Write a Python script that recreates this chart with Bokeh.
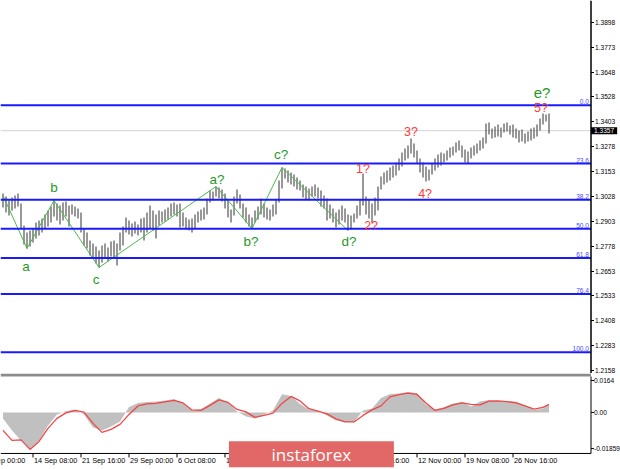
from bokeh.plotting import figure
from bokeh.layouts import column
from bokeh.models import ColumnDataSource, Label, BoxAnnotation, Range1d
from bokeh.embed import file_html
from bokeh.resources import INLINE
from bokeh.core.properties import value

# ---------------- data ----------------
highs = [1.3043, 1.3028, 1.3008, 1.3023, 1.3033, 1.3043, 1.2993, 1.2883, 1.2848, 1.2858,
         1.2868, 1.2898, 1.2908, 1.2918, 1.2938, 1.2958, 1.2978, 1.3008, 1.2993, 1.2983,
         1.2998, 1.3003, 1.2983, 1.2988, 1.2978, 1.2968, 1.2948, 1.2868, 1.2848, 1.2808,
         1.2793, 1.2778, 1.2758, 1.2783, 1.2793, 1.2773, 1.2803, 1.2808, 1.2793, 1.2848,
         1.2878, 1.2923, 1.2908, 1.2893, 1.2903, 1.2888, 1.2918, 1.2923, 1.2948, 1.2983,
         1.2958, 1.2938, 1.2958, 1.2953, 1.2963, 1.2973, 1.2993, 1.2998, 1.2988, 1.2993,
         1.2948, 1.2923, 1.2913, 1.2918, 1.2938, 1.2953, 1.2963, 1.2973, 1.3018, 1.3058,
         1.3053, 1.3078, 1.3073, 1.3063, 1.3043, 1.3008, 1.2963, 1.3028, 1.3063, 1.3038,
         1.2993, 1.2973, 1.2938, 1.2923, 1.2958, 1.2978, 1.3018, 1.2993, 1.2973, 1.2963,
         1.2988, 1.3013, 1.3108, 1.3173, 1.3168, 1.3158, 1.3148, 1.3138, 1.3123, 1.3108,
         1.3088, 1.3078, 1.3068, 1.3078, 1.3088, 1.3073, 1.3058, 1.3033, 1.3018, 1.2988,
         1.2968, 1.2948, 1.2963, 1.2983, 1.2968, 1.2938, 1.2933, 1.2943, 1.2983, 1.3013,
         1.3143, 1.3028, 1.3013, 1.2993, 1.3023, 1.3078, 1.3128, 1.3148, 1.3158, 1.3173,
         1.3183, 1.3198, 1.3218, 1.3248, 1.3268, 1.3283, 1.3318, 1.3293, 1.3258, 1.3218,
         1.3198, 1.3178, 1.3163, 1.3193, 1.3218, 1.3238, 1.3248, 1.3243, 1.3258, 1.3273,
         1.3278, 1.3298, 1.3308, 1.3283, 1.3263, 1.3253, 1.3273, 1.3283, 1.3293, 1.3308,
         1.3323, 1.3393, 1.3398, 1.3368, 1.3378, 1.3388, 1.3373, 1.3393, 1.3398, 1.3383,
         1.3388, 1.3368, 1.3358, 1.3363, 1.3343, 1.3353, 1.3368, 1.3373, 1.3388, 1.3418,
         1.3443, 1.3438, 1.3443]
lows = [1.2973, 1.2948, 1.2933, 1.2958, 1.2968, 1.2978, 1.2868, 1.2788, 1.2768, 1.2778,
        1.2798, 1.2818, 1.2833, 1.2848, 1.2868, 1.2878, 1.2898, 1.2928, 1.2908, 1.2888,
        1.2908, 1.2928, 1.2878, 1.2938, 1.2928, 1.2918, 1.2848, 1.2783, 1.2768, 1.2733,
        1.2718, 1.2693, 1.2673, 1.2698, 1.2718, 1.2703, 1.2728, 1.2718, 1.2683, 1.2758,
        1.2783, 1.2848, 1.2838, 1.2828, 1.2843, 1.2833, 1.2848, 1.2808, 1.2848, 1.2868,
        1.2858, 1.2818, 1.2883, 1.2898, 1.2903, 1.2913, 1.2928, 1.2938, 1.2928, 1.2873,
        1.2878, 1.2863, 1.2858, 1.2848, 1.2868, 1.2898, 1.2908, 1.2913, 1.2938, 1.2998,
        1.3008, 1.3028, 1.3018, 1.3003, 1.2968, 1.2923, 1.2898, 1.2933, 1.2993, 1.2968,
        1.2923, 1.2898, 1.2878, 1.2868, 1.2898, 1.2913, 1.2938, 1.2923, 1.2913, 1.2908,
        1.2928, 1.2938, 1.2998, 1.3068, 1.3118, 1.3098, 1.3088, 1.3078, 1.3063, 1.3058,
        1.3023, 1.3013, 1.3008, 1.3028, 1.3028, 1.3018, 1.2978, 1.2968, 1.2908, 1.2918,
        1.2898, 1.2873, 1.2888, 1.2908, 1.2898, 1.2858, 1.2863, 1.2898, 1.2918, 1.2933,
        1.2983, 1.2938, 1.2918, 1.2898, 1.2933, 1.2958, 1.3063, 1.3088, 1.3098, 1.3108,
        1.3123, 1.3133, 1.3158, 1.3178, 1.3208, 1.3218, 1.3243, 1.3223, 1.3193, 1.3148,
        1.3123, 1.3103, 1.3108, 1.3138, 1.3158, 1.3173, 1.3183, 1.3198, 1.3208, 1.3223,
        1.3233, 1.3248, 1.3258, 1.3223, 1.3198, 1.3193, 1.3218, 1.3233, 1.3243, 1.3258,
        1.3268, 1.3293, 1.3338, 1.3318, 1.3323, 1.3328, 1.3323, 1.3348, 1.3353, 1.3338,
        1.3323, 1.3318, 1.3298, 1.3303, 1.3293, 1.3303, 1.3308, 1.3318, 1.3328, 1.3358,
        1.3388, 1.3403, 1.3343]
current_price = 1.3357

price_ticks = [1.3898, 1.3773, 1.3648, 1.3528, 1.3403, 1.3278, 1.3153, 1.3028,
               1.2903, 1.2778, 1.2653, 1.2533, 1.2408, 1.2283, 1.2158]

date_tick_idx = [-6, 10, 26, 42, 58, 74, 90, 106, 122, 138, 154, 170]
date_labels = ["7 Sep 00:00", "14 Sep 08:00", "21 Sep 16:00", "29 Sep 00:00", "6 Oct 08:00",
               "13 Oct 16:00", "21 Oct 00:00", "28 Oct 08:00", "4 Nov 16:00",
               "12 Nov 00:00", "19 Nov 08:00", "26 Nov 16:00"]

fib_top = 1.3484
fib_bottom = 1.2249
fib_ratios = [0.0, 23.6, 38.2, 50.0, 61.8, 76.4, 100.0]

wave_idx = [0, 8, 17, 32, 71, 83, 93, 115]
wave_price = [1.3033, 1.2768, 1.3008, 1.2673, 1.3078, 1.2868, 1.3173, 1.2858]

green_text = ["a", "b", "c", "a?", "b?", "c?", "d?", "e?"]
green_idx = [7.7, 17, 31, 71.3, 82.7, 92.7, 115.3, 179.7]
green_price = [1.2678, 1.3073, 1.2613, 1.3113, 1.2803, 1.3238, 1.2803, 1.3548]
red_text = ["1?", "2?", "3?", "4?", "5?"]
red_idx = [120, 122.7, 136, 140.7, 179.3]
red_price = [1.3168, 1.2883, 1.3353, 1.3043, 1.3473]

macd_idx = list(range(0, 181, 3)) + [182]
macd_signal = [-0.00925, -0.01439, -0.01414, -0.01902, -0.01491, -0.00822, -0.00308, -0.00026, 0.00103, 0.00015,
               -0.00565, -0.01028, -0.00874, -0.00617, -0.00103, 0.00334, 0.00437, 0.00463, 0.00540, 0.00617,
               0.00488, 0.00129, 0.00103, 0.00360, 0.00643, 0.00514, 0.00154, 0.00026, -0.00257, -0.00154,
               -0.00036, 0.00463, 0.00822, 0.00591, 0.00190, 0.00067, -0.00077, -0.00334, -0.00488, -0.00488,
               -0.00154, 0.00129, 0.00334, 0.00797, 0.00915, 0.00987, 0.00925, 0.00488, 0.00103, 0.00206,
               0.00386, 0.00488, 0.00411, 0.00386, 0.00576, 0.00591, 0.00555, 0.00488, 0.00334, 0.00170,
               0.00257, 0.00411]
macd_hist = [-0.00308, -0.00925, -0.01439, -0.01876, -0.01439, -0.00668, -0.00103, 0.00077, 0.00139, -0.00103,
             -0.00771, -0.00925, -0.00720, -0.00463, 0.00272, 0.00488, 0.00540, 0.00565, 0.00617, 0.00694,
             0.00463, 0.00103, 0.00180, 0.00463, 0.00735, 0.00514, 0.00051, -0.00206, -0.00308, -0.00103,
             0.00103, 0.00935, 0.00848, 0.00437, 0.00154, 0.00077, -0.00154, -0.00411, -0.00499, -0.00499,
             0.00103, 0.00206, 0.00745, 0.00951, 0.00977, 0.01054, 0.01002, 0.00411, 0.00154, 0.00283,
             0.00463, 0.00529, 0.00308, 0.00565, 0.00643, 0.00591, 0.00581, 0.00565, 0.00360, 0.00129,
             0.00206, 0.00411]
macd_ticks = [0.0164, 0.0, -0.01859]
macd_tick_labels = ["0.0164", "0.00", "-0.01859"]

logo_text = "instaforex"

# ---------------- layout constants (styling only) ----------------
FONT = "Liberation Sans"
W = 620
H_MAIN, H_MACD = 373, 96
X0 = -2.5 / 3                                # bar 0 sits on a pixel centre
XEND = X0 + W / 3                            # 3 px per bar
X1 = 196                                     # price-scale position (bar-index units)
PY0, PY1 = 1.2143, 1.4008
MY0, MY1 = -0.02934, 0.0200
MAXIS = -0.0211                              # bottom axis of the indicator window
MPX = (MY1 - MY0) / H_MACD                   # value per pixel in the indicator window
BPX = (XEND - X0) / W                        # bar index per pixel

xr = Range1d(X0, XEND)
bar_idx = list(range(len(highs)))


def bare(fig):
    fig.grid.visible = False
    fig.outline_line_color = None
    fig.background_fill_color = "white"
    fig.border_fill_color = "white"


# ---------------- main price window ----------------
p = figure(frame_width=W, frame_height=H_MAIN, x_range=xr, y_range=Range1d(PY0, PY1),
           x_axis_location=None, y_axis_location=None, toolbar_location=None,
           output_backend="svg", min_border=0)
bare(p)

# current price line
p.segment(x0=[X0], x1=[X1], y0=[current_price], y1=[current_price],
          line_color="#d2d2d2", line_width=1)

# OHLC bars
p.segment(x0=bar_idx, y0=lows, x1=bar_idx, y1=highs, line_color="#333333", line_width=1)

# wave zigzag
p.line(wave_idx, wave_price, line_color="#4cb84c", line_width=1)

# Fibonacci levels
fib_levels = [fib_top - (fib_top - fib_bottom) * r / 100.0 for r in fib_ratios]
p.segment(x0=[X0] * len(fib_levels), x1=[X1] * len(fib_levels), y0=fib_levels, y1=fib_levels,
          line_color="#1a1aff", line_width=2)
p.text(x=[X1] * len(fib_levels), y=fib_levels, text=[f"{r:.1f}" for r in fib_ratios],
       x_offset=-2, y_offset=-1, text_align="right", text_baseline="bottom",
       text_color="#4a4aff", text_font=value(FONT), text_font_size="6.6px")

# wave labels
gsrc = ColumnDataSource(dict(x=green_idx, y=green_price, t=green_text,
                             s=["13.5px"] * 7 + ["15px"]))
p.text(x="x", y="y", text="t", source=gsrc, text_color="#1f9a1f", text_font_size="s",
       text_align="center", text_baseline="middle", text_font=value(FONT))
rsrc = ColumnDataSource(dict(x=red_idx, y=red_price, t=red_text))
p.text(x="x", y="y", text="t", source=rsrc, text_color="#ff3a3a", text_font_size="12.5px",
       text_align="center", text_baseline="middle", text_font=value(FONT))

# price scale
p.segment(x0=[X1], x1=[X1], y0=[PY0], y1=[PY1], line_color="black", line_width=1.5)
p.segment(x0=[X1] * len(price_ticks), x1=[X1 + 3 * BPX] * len(price_ticks),
          y0=price_ticks, y1=price_ticks, line_color="black", line_width=1)
p.text(x=[X1] * len(price_ticks), y=price_ticks, text=[f"{t:.4f}" for t in price_ticks],
       x_offset=4, text_align="left", text_baseline="middle", text_color="black",
       text_font=value(FONT), text_font_size="6.6px")

# current price tag
p.add_layout(Label(x=X1, y=current_price, x_offset=0, text=f"{current_price:.4f}",
                   text_align="left", text_baseline="middle", text_color="white",
                   text_font=FONT, text_font_size="6.6px", background_fill_color="black",
                   padding=dict(left=3, right=3, top=1, bottom=1)))

# ---------------- MACD window ----------------
m = figure(frame_width=W, frame_height=H_MACD, x_range=xr, y_range=Range1d(MY0, MY1),
           x_axis_location=None, y_axis_location=None, toolbar_location=None,
           output_backend="svg", min_border=0)
bare(m)

m.varea(x=macd_idx, y1=0, y2=macd_hist, fill_color="#c0c0c0")
m.line(macd_idx, macd_signal, line_color="#f04646", line_width=1.3)

# window separator
m.add_layout(BoxAnnotation(left=X0, right=X1, bottom=MY1 - 3 * MPX, top=MY1,
                           fill_color="#8c8c8c", fill_alpha=1, line_color=None))

# indicator scale
m.segment(x0=[X1], x1=[X1], y0=[MAXIS], y1=[MY1 - 3 * MPX], line_color="black", line_width=1)
m.segment(x0=[X1] * 3, x1=[X1 + 3 * BPX] * 3, y0=macd_ticks, y1=macd_ticks,
          line_color="black", line_width=1)
m.text(x=[X1] * 3, y=macd_ticks, text=macd_tick_labels, x_offset=3, text_align="left",
       text_baseline="middle", text_color="black", text_font=value(FONT), text_font_size="6.6px")

# time axis
m.segment(x0=[X0], x1=[X1], y0=[MAXIS], y1=[MAXIS], line_color="black", line_width=1)
m.segment(x0=date_tick_idx, x1=date_tick_idx, y0=[MAXIS] * len(date_tick_idx),
          y1=[MAXIS - 4 * MPX] * len(date_tick_idx), line_color="black", line_width=1)
m.text(x=date_tick_idx, y=[MAXIS - 7.5 * MPX] * len(date_tick_idx), text=date_labels,
       x_offset=1, text_align="left", text_baseline="middle", text_color="black",
       text_font=value(FONT), text_font_size="7.3px")

# watermark logo
m.quad(left=[75.3], right=[130.3], top=[MAXIS + 12.3 * MPX], bottom=[MAXIS - 13.7 * MPX],
       fill_color="#e26868", line_color=None)
m.text(x=[102.8], y=[MAXIS - 1 * MPX], text=[logo_text], text_align="center",
       text_baseline="middle", text_color="white", text_font=value("Open Sans"),
       text_font_size="17px")

layout = column(p, m, spacing=0)
open("out.html", "w").write(file_html(layout, INLINE))
